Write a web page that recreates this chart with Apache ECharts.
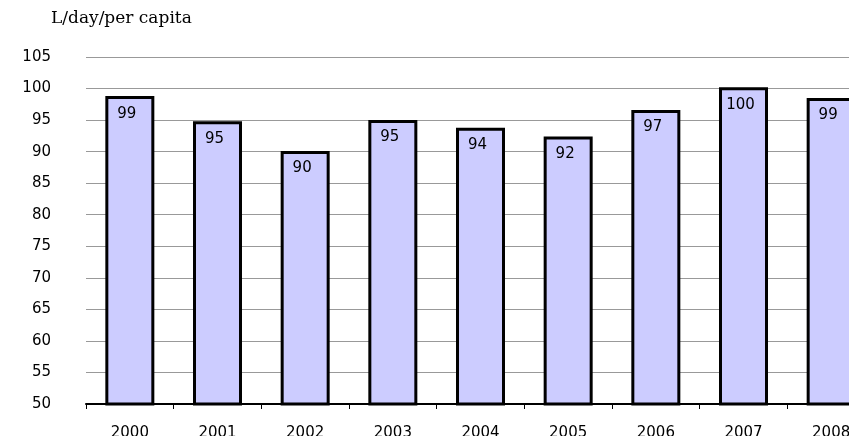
<!DOCTYPE html>
<html>
<head>
<meta charset="utf-8">
<script src="https://cdn.jsdelivr.net/npm/echarts@6/dist/echarts.min.js"></script>
<style>
  html, body { margin: 0; padding: 0; background: #fff; }
  #chart { width: 849px; height: 436px; }
</style>
</head>
<body>
<div id="chart"></div>
<script>
  'use strict'

  var years = ['2000', '2001', '2002', '2003', '2004', '2005', '2006', '2007', '2008'];
  var litres = [98.8, 94.8, 90.1, 95.0, 93.8, 92.4, 96.6, 100.2, 98.5];
  var yMin = 50, yMax = 105, yStep = 5;

  var myChart = echarts.init(document.getElementById('chart'));

  var option = {
    animation: false,
    title: {
      text: 'L/day/per capita',
      left: 46,
      top: 5,
      textStyle: {
        fontFamily: 'DejaVu Serif',
        fontWeight: 'normal',
        fontSize: 17,
        color: '#000'
      }
    },
    // the plot runs past the right edge of the picture (2008 is cut off)
    grid: {
      outerBoundsMode: 'none',
      containLabel: false,
      top: 57,
      left: 86,
      width: 789,
      height: 347
    },
    xAxis: {
      type: 'category',
      data: years,
      axisLine: {
        lineStyle: { color: '#000', width: 2 }
      },
      axisTick: {
        show: true,
        length: 5,
        lineStyle: { color: '#000', width: 1 }
      },
      axisLabel: {
        margin: 22,
        fontFamily: 'DejaVu Sans',
        fontSize: 15,
        color: '#000'
      }
    },
    yAxis: {
      type: 'value',
      min: yMin,
      max: yMax,
      interval: yStep,
      axisLine: { show: false },
      axisTick: { show: false },
      splitLine: {
        lineStyle: { color: '#999', width: 1 }
      },
      axisLabel: {
        margin: 35,
        fontFamily: 'DejaVu Sans',
        fontSize: 15,
        color: '#000'
      }
    },
    series: [{
      name: 'L/day/per capita',
      type: 'bar',
      data: litres,
      barWidth: 49,
      itemStyle: {
        color: '#ccccff',
        borderColor: '#000',
        borderWidth: 3
      },
      label: {
        show: true,
        position: 'insideTop',
        distance: 10,
        offset: [-3, 0],
        fontFamily: 'DejaVu Sans',
        fontSize: 15,
        color: '#000',
        formatter: function (p) { return Math.round(p.value); }
      }
    }]
  };

  myChart.setOption(option);
</script>
</body>
</html>
